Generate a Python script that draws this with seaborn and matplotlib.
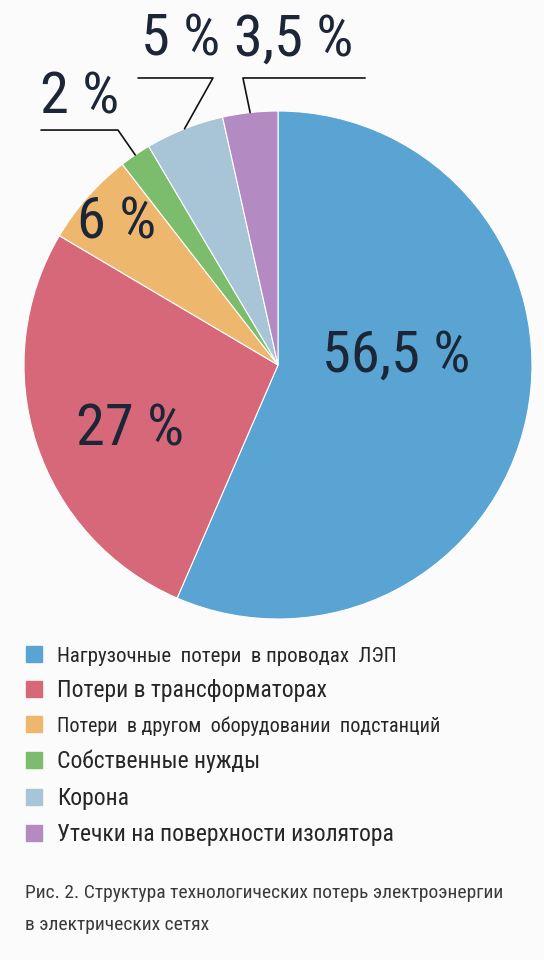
import matplotlib
matplotlib.use("Agg")
import matplotlib.pyplot as plt
from matplotlib.lines import Line2D
import numpy as np
import seaborn as sns

categories = [
    "Нагрузочные  потери  в проводах  ЛЭП",
    "Потери в трансформаторах",
    "Потери  в другом  оборудовании  подстанций",
    "Собственные нужды",
    "Корона",
    "Утечки на поверхности изолятора",
]
values = [56.5, 27, 6, 2, 5, 3.5]
value_labels = ["56,5 %", "27 %", "6 %", "2 %", "5 %", "3,5 %"]
colors = ["#5aa4d3", "#d6687a", "#eeb76e", "#7bbc6d", "#a8c5d7", "#b38ac2"]
caption = "Рис. 2. Структура технологических потерь электроэнергии\nв электрических сетях"

sns.set_theme(style="white")
fams = ["Roboto Condensed", "PT Sans Narrow", "Fira Sans Condensed", "DejaVu Sans"]
plt.rcParams["font.family"] = fams

W, H = 544, 960
bg = "#fbfbfb"
fig = plt.figure(figsize=(W / 100, H / 100), dpi=100, facecolor=bg)

cx, cy, R = 278, 365, 254
ax = fig.add_axes([(cx - R) / W, (H - cy - R) / H, 2 * R / W, 2 * R / H])
ax.set_facecolor(bg)
wedges, _ = ax.pie(values, colors=colors, startangle=90, counterclock=False,
                   radius=1.0, wedgeprops=dict(edgecolor="white", linewidth=0.8))
ax.set_xlim(-1, 1)
ax.set_ylim(-1, 1)
ax.set_aspect("equal")
ax.axis("off")

txt_color = "#1c2636"
big = 42
# inside labels
inside = {0: (0.465, 0.035), 1: (-0.583, -0.255), 2: (-0.634, 0.560)}
for i, (x, y) in inside.items():
    ax.text(x, y, value_labels[i], ha="center", va="center", fontsize=big,
            color=txt_color)

# outside labels with leader lines
outside = {
    3: dict(text=(-0.780, 1.050), knee=(-0.630, 0.925), end=-0.933),
    4: dict(text=(-0.382, 1.280), knee=(-0.256, 1.130), end=-0.551),
    5: dict(text=(0.063, 1.280), knee=(-0.138, 1.130), end=0.343),
}
for i, d in outside.items():
    w = wedges[i]
    ang = np.deg2rad((w.theta1 + w.theta2) / 2)
    px, py = np.cos(ang), np.sin(ang)
    kx, ky = d["knee"]
    ax.plot([px, kx, d["end"]], [py, ky, ky], color="#111111", lw=1.2, clip_on=False)
    tx, ty = d["text"]
    ax.text(tx, ty, value_labels[i], ha="center", va="center", fontsize=big,
            color=txt_color, clip_on=False)

handles = [Line2D([0], [0], marker="s", linestyle="none", markersize=12,
                  markerfacecolor=c, markeredgecolor=c) for c in colors]
leg = fig.legend(handles, categories, loc="upper left",
                 bbox_to_anchor=(13 / W, 1 - 636 / H), frameon=False,
                 fontsize=17, labelspacing=0.57, handletextpad=0.45,
                 handlelength=1.0, borderaxespad=0, labelcolor="#262626")
texts = leg.get_texts()
texts[0].set_fontsize(15)
texts[2].set_fontsize(14.5)

fig.text(25 / W, 1 - 884 / H, caption, ha="left", va="top", fontsize=14,
         color="#3a3a3a", linespacing=2.0)

fig.savefig("out.png", dpi=100, facecolor=bg)
